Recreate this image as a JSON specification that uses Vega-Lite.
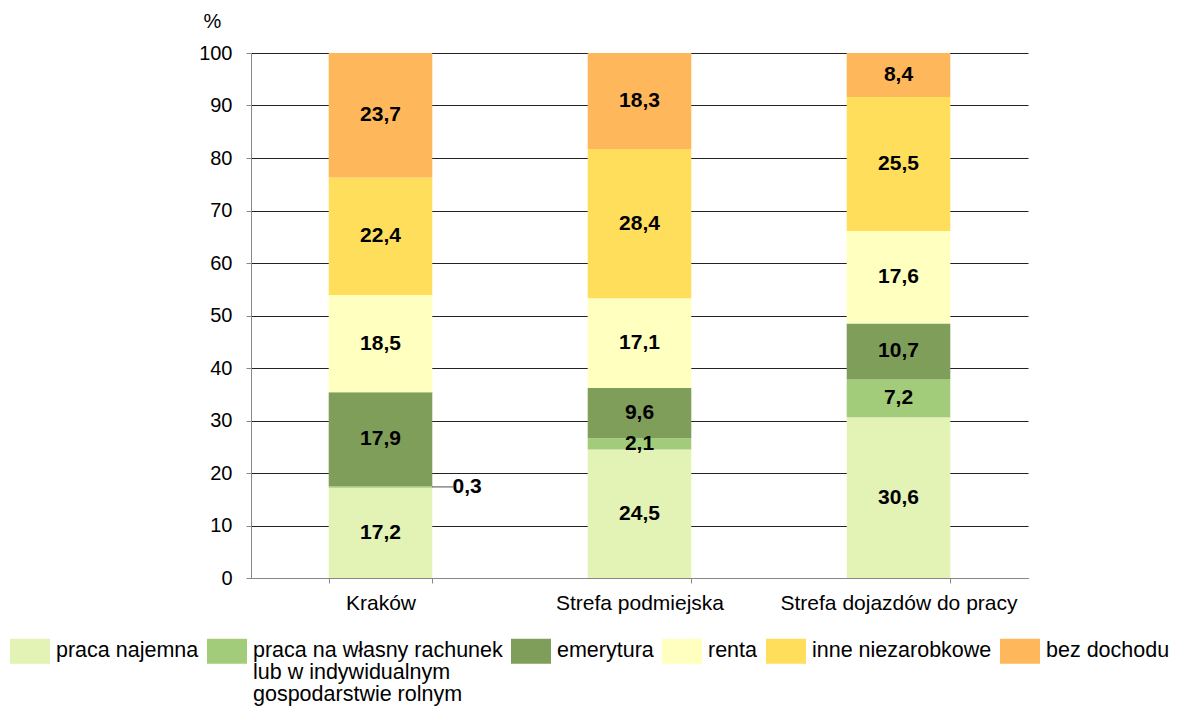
{
  "$schema": "https://vega.github.io/schema/vega-lite/v6.json",
  "width": 777,
  "height": 525,
  "autosize": "none",
  "padding": {"left": 251, "top": 53, "right": 150, "bottom": 130},
  "background": "white",
  "config": {
    "font": "Liberation Sans",
    "view": {"stroke": null},
    "style": {"guide-label": {"lineHeight": 22}}
  },
  "data": {
    "values": [
      {"obszar": "Kraków", "zrodlo": "praca najemna", "k": 1, "wartosc": 17.2, "etykieta": "17,2"},
      {"obszar": "Kraków", "zrodlo": "praca na własny rachunek lub w indywidualnym gospodarstwie rolnym", "k": 2, "wartosc": 0.3, "etykieta": "0,3"},
      {"obszar": "Kraków", "zrodlo": "emerytura", "k": 3, "wartosc": 17.9, "etykieta": "17,9"},
      {"obszar": "Kraków", "zrodlo": "renta", "k": 4, "wartosc": 18.5, "etykieta": "18,5"},
      {"obszar": "Kraków", "zrodlo": "inne niezarobkowe", "k": 5, "wartosc": 22.4, "etykieta": "22,4"},
      {"obszar": "Kraków", "zrodlo": "bez dochodu", "k": 6, "wartosc": 23.7, "etykieta": "23,7"},
      {"obszar": "Strefa podmiejska", "zrodlo": "praca najemna", "k": 1, "wartosc": 24.5, "etykieta": "24,5"},
      {"obszar": "Strefa podmiejska", "zrodlo": "praca na własny rachunek lub w indywidualnym gospodarstwie rolnym", "k": 2, "wartosc": 2.1, "etykieta": "2,1"},
      {"obszar": "Strefa podmiejska", "zrodlo": "emerytura", "k": 3, "wartosc": 9.6, "etykieta": "9,6"},
      {"obszar": "Strefa podmiejska", "zrodlo": "renta", "k": 4, "wartosc": 17.1, "etykieta": "17,1"},
      {"obszar": "Strefa podmiejska", "zrodlo": "inne niezarobkowe", "k": 5, "wartosc": 28.4, "etykieta": "28,4"},
      {"obszar": "Strefa podmiejska", "zrodlo": "bez dochodu", "k": 6, "wartosc": 18.3, "etykieta": "18,3"},
      {"obszar": "Strefa dojazdów do pracy", "zrodlo": "praca najemna", "k": 1, "wartosc": 30.6, "etykieta": "30,6"},
      {"obszar": "Strefa dojazdów do pracy", "zrodlo": "praca na własny rachunek lub w indywidualnym gospodarstwie rolnym", "k": 2, "wartosc": 7.2, "etykieta": "7,2"},
      {"obszar": "Strefa dojazdów do pracy", "zrodlo": "emerytura", "k": 3, "wartosc": 10.7, "etykieta": "10,7"},
      {"obszar": "Strefa dojazdów do pracy", "zrodlo": "renta", "k": 4, "wartosc": 17.6, "etykieta": "17,6"},
      {"obszar": "Strefa dojazdów do pracy", "zrodlo": "inne niezarobkowe", "k": 5, "wartosc": 25.5, "etykieta": "25,5"},
      {"obszar": "Strefa dojazdów do pracy", "zrodlo": "bez dochodu", "k": 6, "wartosc": 8.4, "etykieta": "8,4"}
    ]
  },
  "transform": [
    {"stack": "wartosc", "groupby": ["obszar"], "sort": [{"field": "k", "order": "ascending"}], "as": ["y0", "y1"]},
    {"calculate": "(datum.y0 + datum.y1) / 2", "as": "ysr"}
  ],
  "encoding": {
    "x": {
      "field": "obszar",
      "type": "nominal",
      "sort": ["Kraków", "Strefa podmiejska", "Strefa dojazdów do pracy"],
      "scale": {"paddingInner": 0.6, "paddingOuter": 0.3},
      "axis": {
        "title": null,
        "labelAngle": 0,
        "labelFontSize": 21,
        "labelColor": "#000",
        "labelPadding": 9,
        "labelLimit": 400,
        "domainColor": "#888",
        "tickColor": "#888",
        "tickSize": 5,
        "tickBand": "extent",
        "grid": false
      }
    }
  },
  "layer": [
    {
      "mark": {"type": "bar", "stroke": null},
      "encoding": {
        "y": {
          "field": "y1",
          "type": "quantitative",
          "scale": {"domain": [0, 100], "nice": false},
          "axis": {
            "values": [0, 10, 20, 30, 40, 50, 60, 70, 80, 90, 100],
            "title": "%",
            "titleAngle": 0,
            "titleFontSize": 20,
            "titleFontWeight": "normal",
            "titleColor": "#000",
            "titleAlign": "left",
            "titleBaseline": "middle",
            "titleX": -48,
            "titleY": -32,
            "labelFontSize": 20,
            "labelColor": "#000",
            "labelPadding": 14,
            "domainColor": "#888",
            "tickColor": "#888",
            "tickSize": 5,
            "grid": true,
            "gridColor": "#222",
            "gridWidth": 1
          }
        },
        "y2": {"field": "y0"},
        "color": {
          "field": "zrodlo",
          "type": "nominal",
          "sort": ["praca najemna", "praca na własny rachunek lub w indywidualnym gospodarstwie rolnym", "emerytura", "renta", "inne niezarobkowe", "bez dochodu"],
          "scale": {
            "domain": ["praca najemna", "praca na własny rachunek lub w indywidualnym gospodarstwie rolnym", "emerytura", "renta", "inne niezarobkowe", "bez dochodu"],
            "range": ["#E3F2B5", "#A3CC7A", "#7F9E5A", "#FFFFBF", "#FFDE5C", "#FFB75B"]
          },
          "legend": {
            "title": null,
            "orient": "none",
            "direction": "horizontal",
            "legendX": -241,
            "legendY": 578,
            "symbolType": "M-1,-0.62H1V0.62H-1Z",
            "symbolSize": 1600,
            "symbolStrokeWidth": 0,
            "symbolOpacity": 1,
            "labelFontSize": 21.5,
            "labelColor": "#000",
            "labelOffset": 6,
            "labelLimit": 400,
            "columnPadding": 8,
            "labelExpr": "datum.label == 'praca na własny rachunek lub w indywidualnym gospodarstwie rolnym' ? ['praca na własny rachunek', 'lub w indywidualnym', 'gospodarstwie rolnym'] : datum.label == 'renta' ? ['renta  ', ' ', ' '] : [datum.label, ' ', ' ']",
            "encode": {"labels": {"update": {"lineHeight": {"value": 22}}}}
          }
        },
        "order": {"field": "k"}
      }
    },
    {
      "transform": [{"filter": "datum.wartosc >= 1"}],
      "mark": {"type": "text", "fontWeight": "bold", "fontSize": 21, "color": "#000", "baseline": "middle"},
      "encoding": {
        "y": {"field": "ysr", "type": "quantitative"},
        "text": {"field": "etykieta"}
      }
    },
    {
      "transform": [{"filter": "datum.wartosc < 1"}],
      "mark": {"type": "tick", "color": "#000", "thickness": 1, "size": 21, "xOffset": 62, "orient": "horizontal"},
      "encoding": {
        "y": {"field": "ysr", "type": "quantitative"}
      }
    },
    {
      "transform": [{"filter": "datum.wartosc < 1"}],
      "mark": {"type": "text", "fontWeight": "bold", "fontSize": 21, "color": "#000", "baseline": "middle", "align": "left", "dx": 72},
      "encoding": {
        "y": {"field": "ysr", "type": "quantitative"},
        "text": {"field": "etykieta"}
      }
    }
  ]
}
